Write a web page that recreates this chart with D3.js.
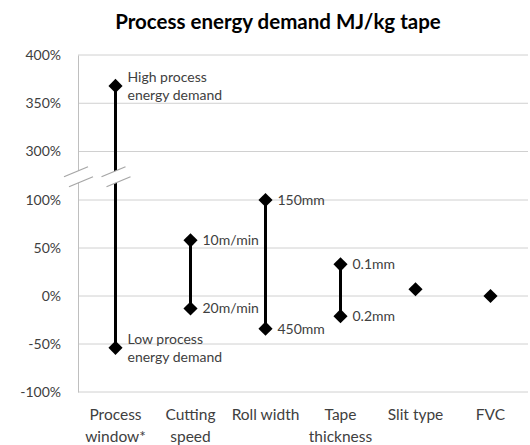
<!DOCTYPE html>
<html>
<head>
<meta charset="utf-8">
<script src="https://cdn.jsdelivr.net/npm/d3@7"></script>
<style>
  body { margin: 0; background: #fff; }
  text { font-family: Lato, "Open Sans", sans-serif; }
</style>
</head>
<body>
<svg class="chart"></svg>
<script>
var categories = ["Process window*", "Cutting speed", "Roll width", "Tape thickness", "Slit type", "FVC"];
var categoryLines = [["Process", "window*"], ["Cutting", "speed"], ["Roll width"], ["Tape", "thickness"], ["Slit type"], ["FVC"]];
var highValues = [368, 58, 100, 33, 7, 0];
var lowValues = [-54, -13, -34, -21, null, null];
var highLabels = [["High process", "energy demand"], ["10m/min"], ["150mm"], ["0.1mm"], [], []];
var lowLabels = [["Low process", "energy demand"], ["20m/min"], ["450mm"], ["0.2mm"], [], []];
var tickValues = [-100, -50, 0, 50, 100, 300, 350, 400];

var width = 530;
var height = 445;
var plotLeft = 78, plotRight = 528, plotTop = 55, plotBottom = 392;

var svg = d3.select(".chart")
    .attr("width", width)
    .attr("height", height);

var x = d3.scaleBand()
    .domain(categories)
    .range([plotLeft, plotRight]);

// broken axis: 100% .. 300% squeezed into one band
var y = d3.scaleLinear()
    .domain([-100, 100, 300, 400])
    .range([plotBottom, 200, 151.5, plotTop]);

// gridlines
svg.append("g")
    .selectAll("line")
    .data(tickValues)
    .enter()
    .append("line")
    .attr("x1", plotLeft)
    .attr("x2", plotRight)
    .attr("y1", function(d) { return y(d); })
    .attr("y2", function(d) { return y(d); })
    .attr("stroke", "#d0d0d0")
    .attr("stroke-width", 1);

// y axis
var yAxis = d3.axisLeft(y)
    .tickValues(tickValues)
    .tickSize(0)
    .tickPadding(17)
    .tickFormat(function(d) { return d + "%"; });

var gy = svg.append("g")
    .attr("transform", "translate(" + plotLeft + ",0)")
    .call(yAxis);
gy.select(".domain").attr("stroke", "#bfbfbf");
gy.selectAll("text")
    .attr("font-size", 14)
    .attr("fill", "#404040");

// x axis labels
var xAxis = d3.axisBottom(x).tickSize(0).tickFormat("");
var gx = svg.append("g")
    .attr("transform", "translate(0," + plotBottom + ")")
    .call(xAxis);
gx.select(".domain").remove();
gx.selectAll(".tick")
    .append("text")
    .attr("fill", "#404040")
    .attr("font-size", 15.5)
    .attr("text-anchor", "middle")
    .selectAll("tspan")
    .data(function(d, i) { return categoryLines[i]; })
    .enter()
    .append("tspan")
    .attr("x", 0)
    .attr("y", function(d, i) { return 28 + i * 22; })
    .text(function(d) { return d; });

var cx = function(i) { return x(categories[i]) + x.bandwidth() / 2; };

// range lines
svg.append("g")
    .selectAll("line")
    .data(d3.range(categories.length).filter(function(i) { return lowValues[i] !== null; }))
    .enter()
    .append("line")
    .attr("x1", cx)
    .attr("x2", cx)
    .attr("y1", function(i) { return y(highValues[i]); })
    .attr("y2", function(i) { return y(lowValues[i]); })
    .attr("stroke", "#000")
    .attr("stroke-width", 3);

// break marks
var yb = (y(100) + y(300)) / 2;
[plotLeft, cx(0)].forEach(function(bx) {
    var a = [[bx - 14, yb + 1], [bx + 10, yb - 9]];
    var b = [[bx - 9, yb + 11], [bx + 15, yb + 1]];
    svg.append("polygon")
        .attr("points", [a[0], a[1], b[1], b[0]].map(function(p) { return p.join(","); }).join(" "))
        .attr("fill", "#fff");
    [a, b].forEach(function(s) {
        svg.append("line")
            .attr("x1", s[0][0]).attr("y1", s[0][1])
            .attr("x2", s[1][0]).attr("y2", s[1][1])
            .attr("stroke", "#a6a6a6")
            .attr("stroke-width", 1.3);
    });
});

// points
var diamond = d3.symbol().type(d3.symbolSquare).size(100);
var points = [];
categories.forEach(function(c, i) {
    points.push({i: i, v: highValues[i], lab: highLabels[i]});
    if (lowValues[i] !== null) points.push({i: i, v: lowValues[i], lab: lowLabels[i]});
});

svg.append("g")
    .selectAll("path")
    .data(points)
    .enter()
    .append("path")
    .attr("d", diamond)
    .attr("transform", function(d) { return "translate(" + cx(d.i) + "," + y(d.v) + ") rotate(45)"; })
    .attr("fill", "#000");

// data labels
svg.append("g")
    .selectAll("text")
    .data(points.filter(function(d) { return d.lab.length > 0; }))
    .enter()
    .append("text")
    .attr("font-size", 14)
    .attr("fill", "#404040")
    .each(function(d) {
        var n = d.lab.length;
        d3.select(this).selectAll("tspan")
            .data(d.lab)
            .enter()
            .append("tspan")
            .attr("x", cx(d.i) + 12)
            .attr("y", function(t, k) { return y(d.v) + 5 + (k - (n - 1) / 2) * 18; })
            .text(function(t) { return t; });
    });

// title
svg.append("text")
    .attr("x", 278)
    .attr("y", 29)
    .attr("text-anchor", "middle")
    .attr("font-size", 20.5)
    .attr("font-weight", "bold")
    .attr("fill", "#000")
    .text("Process energy demand MJ/kg tape");
</script>
</body>
</html>
